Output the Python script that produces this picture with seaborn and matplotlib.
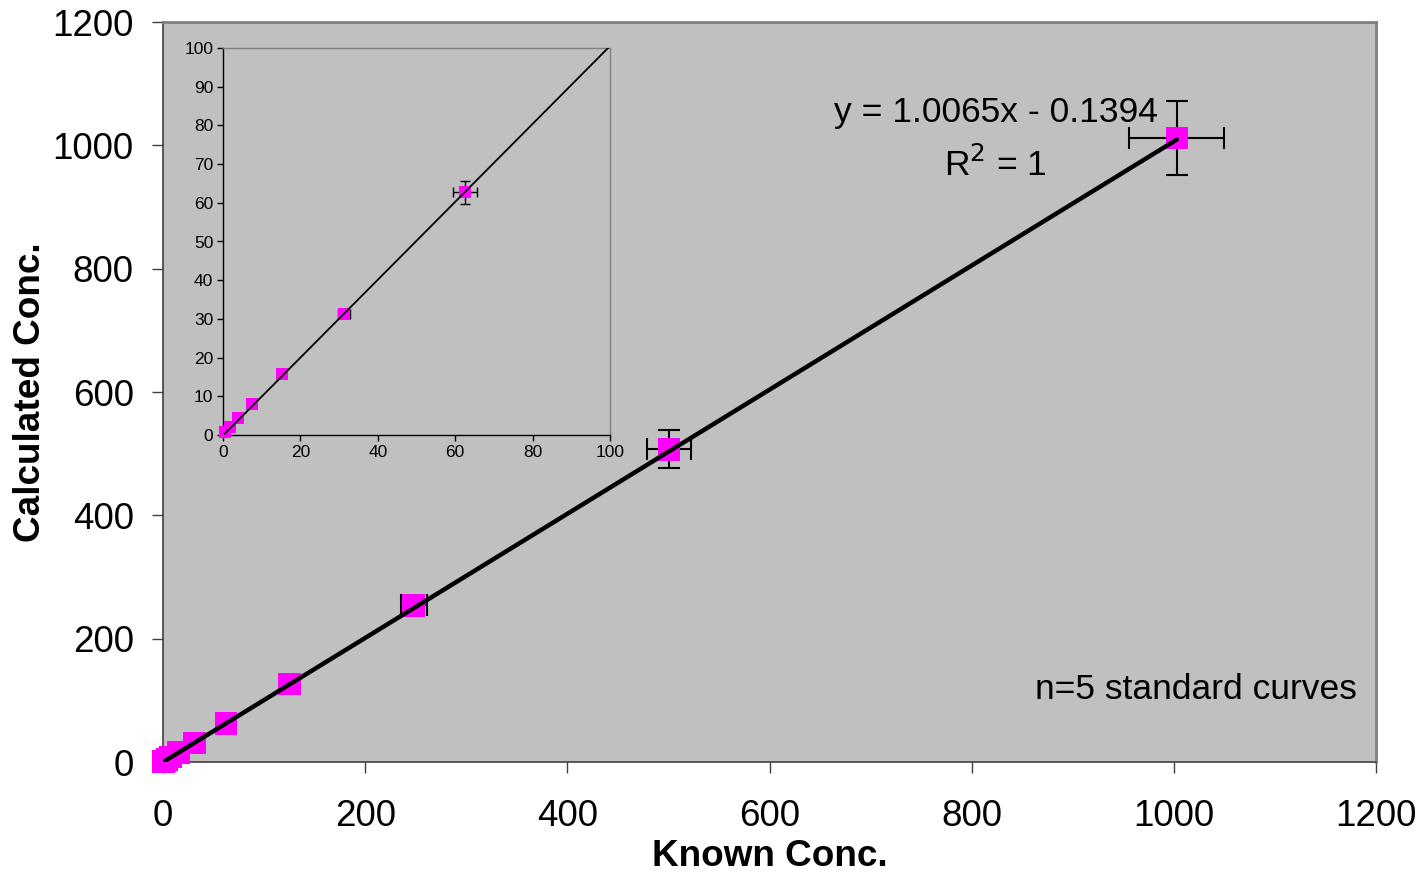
import matplotlib
matplotlib.use("Agg")
import matplotlib.pyplot as plt
import seaborn as sns
import numpy as np
import pandas as pd

# ---- data ----
known_conc = [0.4, 1.8, 3.8, 7.6, 15.3, 31.3, 62.6, 125.0, 248.0, 500.6, 1003.0]
calc_conc = [0.85, 2.1, 4.3, 7.9, 15.7, 31.3, 62.7, 126.0, 254.0, 507.0, 1012.0]
x_err = [0.0, 0.0, 0.0, 0.0, 0.0, 1.5, 3.1, 6.0, 13.0, 22.0, 47.0]
y_err = [0.0, 0.0, 0.0, 0.0, 0.0, 1.0, 2.9, 6.0, 12.0, 31.0, 60.0]
slope = 1.0065
intercept = -0.1394
main_ticks = [0, 200, 400, 600, 800, 1000, 1200]
inset_xticks = [0, 20, 40, 60, 80, 100]
inset_yticks = [0, 10, 20, 30, 40, 50, 60, 70, 80, 90, 100]

df = pd.DataFrame({"known": known_conc, "calc": calc_conc,
                   "xerr": x_err, "yerr": y_err})
fit_x = np.array([min(known_conc), max(known_conc)])
fit_df = pd.DataFrame({"x": fit_x, "y": slope * fit_x + intercept})

sns.set_theme(style="white")
plt.rcParams["font.family"] = ["Liberation Sans", "DejaVu Sans"]
plt.rcParams["text.color"] = "black"
plt.rcParams["axes.labelcolor"] = "black"

BG = "#C0C0C0"
MAG = "#FF00FF"

fig = plt.figure(figsize=(14.22, 8.75), dpi=100)
fig.patch.set_facecolor("white")

ax = fig.add_axes([163 / 1422, 1 - 762 / 875, (1376 - 163) / 1422, (762 - 22) / 875])
ax.set_facecolor(BG)

ax.errorbar(df["known"], df["calc"], xerr=df["xerr"], yerr=df["yerr"],
            fmt="none", ecolor="black", elinewidth=1.5, capsize=8, capthick=1.5,
            zorder=2, clip_on=False)
sns.scatterplot(data=df, x="known", y="calc", marker="s", s=260, color=MAG,
                edgecolor="none", linewidth=0, ax=ax, zorder=3, clip_on=False)
sns.lineplot(data=fit_df, x="x", y="y", color="black", linewidth=3.2, ax=ax,
             zorder=4)

ax.set_xlim(0, 1200)
ax.set_ylim(0, 1200)
ax.set_xticks(main_ticks)
ax.set_yticks(main_ticks)
ax.tick_params(axis="both", which="major", direction="out", length=8, width=1,
               color="#404040", labelsize=26.5, pad=13, labelcolor="black",
               bottom=True, left=True)
ax.tick_params(axis="x", pad=19)
for side in ["left", "bottom"]:
    ax.spines[side].set_color("#404040")
    ax.spines[side].set_linewidth(1.2)
for side in ["top", "right"]:
    ax.spines[side].set_color("#808080")
    ax.spines[side].set_linewidth(2)
ax.set_xlabel("Known Conc.", fontsize=26.6, fontweight="bold", labelpad=3,
              color="black")
ax.set_ylabel("Calculated Conc.", fontsize=26.6, fontweight="bold", labelpad=3,
              color="black")

ax.text(824, 1053, "y = 1.0065x - 0.1394", fontsize=25.5, ha="center",
        va="center", color="black")
ax.text(824, 968, "R$^2$ = 1", fontsize=25.5, ha="center", va="center",
        color="black")
ax.text(0.984, 0.098, "n=5 standard curves", fontsize=25.5, ha="right",
        va="center", color="black", transform=ax.transAxes)

# ---- inset ----
ins = fig.add_axes([223 / 1422, 1 - 435 / 875, (610 - 223) / 1422, (435 - 48) / 875])
ins.set_facecolor(BG)
ins.errorbar(df["known"], df["calc"], xerr=df["xerr"], yerr=df["yerr"],
             fmt="none", ecolor="black", elinewidth=1.0, capsize=3.5,
             capthick=1.0, zorder=2)
sns.scatterplot(data=df, x="known", y="calc", marker="s", s=75, color=MAG,
                edgecolor="none", linewidth=0, ax=ins, zorder=3)
for coll in ins.collections:
    coll.set_clip_on(False)
ins.set_xlim(0, 100)
ins.set_ylim(0, 100)
sns.lineplot(data=fit_df, x="x", y="y", color="black", linewidth=1.3, ax=ins,
             zorder=4)
ins.set_xlim(0, 100)
ins.set_ylim(0, 100)
ins.set_xticks(inset_xticks)
ins.set_yticks(inset_yticks)
ins.set_xlabel("")
ins.set_ylabel("")
ins.tick_params(axis="both", direction="out", length=4, width=1,
                color="black", labelsize=12.5, pad=3, labelcolor="black",
                bottom=True, left=True)
for side in ["left", "bottom"]:
    ins.spines[side].set_color("black")
    ins.spines[side].set_linewidth(1.0)
for side in ["top", "right"]:
    ins.spines[side].set_color("#808080")
    ins.spines[side].set_linewidth(1.0)

fig.savefig("out.png", dpi=100, facecolor=fig.get_facecolor())
